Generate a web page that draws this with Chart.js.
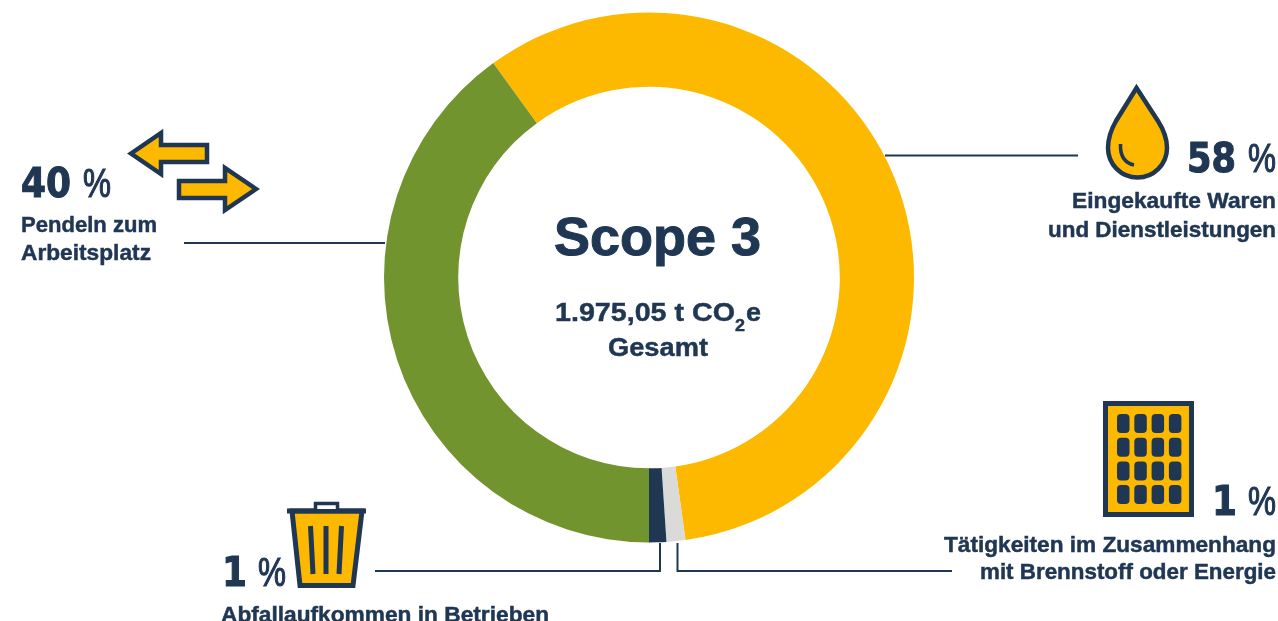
<!DOCTYPE html>
<html lang="de">
<head>
<meta charset="utf-8">
<title>Scope 3</title>
<style>
html,body{margin:0;padding:0;background:#fff;overflow:hidden}
#wrap{position:relative;width:1278px;height:621px}
#c{position:absolute;left:0;top:0}
#ov{position:absolute;left:0;top:0;pointer-events:none}
#ov text{font-family:"Liberation Sans",Arial,sans-serif;font-weight:700;fill:#203754;stroke:#203754;stroke-width:.45px}
#ov text.big{stroke-width:1px}
#ov text.num{font-family:"DejaVu Sans",sans-serif;stroke-width:1.1px}
#ov text.pct{font-weight:400;stroke-width:1.2px}
.ln{fill:none;stroke:#203754;stroke-width:2}
.ic{fill:#FDB900;stroke:#203754;stroke-width:5}
</style>
</head>
<body>
<div id="wrap">
<canvas id="c" width="1278" height="621"></canvas>
<svg id="ov" width="1278" height="621" viewBox="0 0 1278 621" xmlns="http://www.w3.org/2000/svg">
  <!-- leader lines -->
  <path class="ln" d="M184 243H385"/>
  <path class="ln" d="M885 155.500H1078"/>
  <path class="ln" d="M375 571H660V543"/>
  <path class="ln" d="M952 571H677.500V543"/>
  <!-- arrows -->
  <path class="ic" style="stroke-width:4.500" d="M131 153.500L161 133V145H207V162H161V174Z"/>
  <path class="ic" style="stroke-width:4.500" d="M179 181H225V168L256 189L225 210V198H179Z"/>
  <!-- drop -->
  <path class="ic" style="stroke-width:4.500" d="M1136.500 88L1116 121Q1108 135 1108 148A29.500 29.500 0 0 0 1167 148Q1167 135 1158 121Z"/>
  <path fill="none" stroke="#203754" stroke-width="3.500" d="M1120.500 144C1120 156 1125 163 1134 165"/>
  <!-- panel -->
  <rect class="ic" x="1105.500" y="403.500" width="86" height="111"/>
  <g id="cells" fill="#203754"></g>
  <!-- bin -->
  <path class="ic" d="M292 511L300 585.500H353L362 511Z"/>
  <path fill="none" stroke="#203754" stroke-width="5" d="M287 511H366"/>
  <path fill="#fff" stroke="#203754" stroke-width="3.500" d="M315.500 509V503.500H337.500V509"/>
  <path fill="none" stroke="#203754" stroke-width="5" d="M310.500 526L313 574M326 526V574M341.500 526L339 574"/>
  <g id="texts"></g>
</svg>
</div>
<script src="https://cdn.jsdelivr.net/npm/chart.js@4/dist/chart.umd.min.js"></script>
<script>
const categories = ["Eingekaufte Waren und Dienstleistungen","Tätigkeiten im Zusammenhang mit Brennstoff oder Energie","Abfallaufkommen in Betrieben","Pendeln zum Arbeitsplatz"];
const shares = [57.8, 1.15, 1.05, 40];
const shareLabels = ["58", "1", "1", "40"];
const sliceColors = ["#FDB900", "#DADAD8", "#203754", "#72942E"];
const title = "Scope 3";
const totalParts = ["1.975,05 t CO", "2", "e"];
const totalLabel = "Gesamt";

new Chart(document.getElementById("c"), {
  type: "doughnut",
  data: { labels: categories, datasets: [{ data: shares, backgroundColor: sliceColors, borderWidth: 0, hoverOffset: 0 }] },
  options: {
    responsive: false, animation: false, rotation: -36, cutout: "72%",
    layout: { padding: { left: 384, right: 364, top: 12, bottom: 78 } },
    plugins: { legend: { display: false }, tooltip: { enabled: false } }
  }
});

const NS = "http://www.w3.org/2000/svg";
const tg = document.getElementById("texts");
function txt(str, x, y, size, anchor, width, cls) {
  const t = document.createElementNS(NS, "text");
  t.setAttribute("x", x); t.setAttribute("y", y);
  t.setAttribute("font-size", size); t.setAttribute("text-anchor", anchor || "start");
  if (width) { t.setAttribute("textLength", width); t.setAttribute("lengthAdjust", "spacingAndGlyphs"); }
  if (cls) t.setAttribute("class", cls);
  t.textContent = str; tg.appendChild(t); return t;
}
function pct(val, x, y, numW, pctX) {
  txt(val, x, y, 41, "start", numW, "num");
  txt("%", pctX, y, 41, "start", 28, "pct");
}
txt(title, 554, 255, 54, "start", 207, "big");
txt(totalParts[0], 555, 321, 26, "start", 180);
txt(totalParts[1], 735, 331, 16, "start", 10);
txt(totalParts[2], 746, 321, 26, "start", 15);
txt(totalLabel, 658, 356, 26, "middle", 100);

pct(shareLabels[3], 21, 197, 50, 83);
txt("Pendeln zum", 21, 232, 21.5, "start", 136);
txt("Arbeitsplatz", 21, 260, 21.5, "start", 130);

pct(shareLabels[0], 1187, 172, 49, 1248);
txt("Eingekaufte Waren", 1276, 208, 21.5, "end", 204);
txt("und Dienstleistungen", 1276, 237, 21.5, "end", 228);

pct(shareLabels[1], 1212, 515, 25, 1248);
txt("Tätigkeiten im Zusammenhang", 1276, 552, 21.5, "end", 332);
txt("mit Brennstoff oder Energie", 1276, 579, 21.5, "end", 296);

pct(shareLabels[2], 222, 586, 25, 258);
txt("Abfallaufkommen in Betrieben", 221, 622, 21.5, "start", 328);

const cells = document.getElementById("cells");
for (let r = 0; r < 4; r++) for (let c = 0; c < 4; c++) {
  const e = document.createElementNS(NS, "rect");
  e.setAttribute("x", 1117 + c * 17.3); e.setAttribute("y", 414 + r * 23.7);
  e.setAttribute("width", 12.5); e.setAttribute("height", 19); e.setAttribute("rx", 4);
  cells.appendChild(e);
}
</script>
</body>
</html>
